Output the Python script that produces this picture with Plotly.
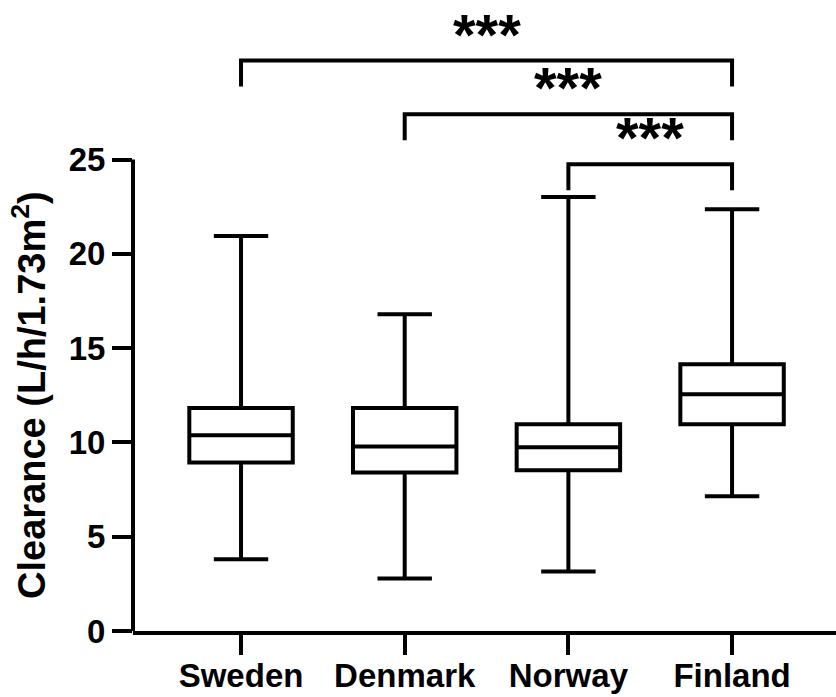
import plotly.graph_objects as go

countries = ["Sweden", "Denmark", "Norway", "Finland"]
q1 = [8.94, 8.41, 8.52, 10.96]
median = [10.38, 9.79, 9.74, 12.55]
q3 = [11.83, 11.83, 10.96, 14.15]
lower = [3.80, 2.79, 3.16, 7.14]
upper = [20.94, 16.80, 23.01, 22.37]

y_ticks = [0, 5, 10, 15, 20, 25]
y_title = "Clearance (L/h/1.73m<sup>2</sup>)"

# significance comparisons: (group a, group b, bracket height, label)
comparisons = [
    ("Sweden", "Finland", 30.25, "***"),
    ("Denmark", "Finland", 27.40, "***"),
    ("Norway", "Finland", 24.75, "***"),
]
leg_drop = 1.38

FONT = "Liberation Sans, Arial, sans-serif"

fig = go.Figure()
fig.add_trace(go.Box(
    x=countries, q1=q1, median=median, q3=q3,
    lowerfence=lower, upperfence=upper,
    boxpoints=False, width=0.632, whiskerwidth=0.526,
    fillcolor="white", line=dict(color="black", width=4),
    showlegend=False, hoverinfo="skip",
))

for a, b, h, lab in comparisons:
    fig.add_trace(go.Scatter(
        x=[a, a, b, b], y=[h - leg_drop, h, h, h - leg_drop],
        mode="lines", line=dict(color="black", width=4),
        showlegend=False, hoverinfo="skip",
    ))
    ia, ib = countries.index(a), countries.index(b)
    fig.add_annotation(
        x=(ia + ib) / 2, y=h, xref="x", yref="y",
        text=lab, showarrow=False, yanchor="bottom", yshift=-8,
        font=dict(family=FONT, size=58, color="black", weight="bold"),
    )

# y axis line only over 0..25
fig.add_shape(type="line", xref="paper", yref="y", x0=0, x1=0,
              y0=y_ticks[0], y1=y_ticks[-1],
              line=dict(color="black", width=4), layer="above")

fig.add_annotation(
    x=-0.147, xref="paper", y=(y_ticks[0] + y_ticks[-1]) / 2, yref="y",
    text=y_title, textangle=-90, showarrow=False,
    xanchor="center", yanchor="middle",
    font=dict(family=FONT, size=38, color="black", weight="bold"),
)

fig.update_layout(
    width=836, height=697,
    margin=dict(l=133, r=0, t=10, b=66),
    plot_bgcolor="white", paper_bgcolor="white",
    font=dict(family=FONT, color="black", weight="bold"),
    xaxis=dict(
        type="category", categoryorder="array", categoryarray=countries,
        range=[-0.66, 3.635], showline=True, linecolor="black", linewidth=4,
        ticks="outside", ticklen=20, tickwidth=4, tickcolor="black",
        ticklabelstandoff=-8,
        showgrid=False, zeroline=False, automargin=False,
        tickfont=dict(family=FONT, size=33, color="black", weight="bold"),
    ),
    yaxis=dict(
        range=[0, 32.93], tickvals=y_ticks, showline=False,
        ticks="outside", ticklen=20, tickwidth=4, tickcolor="black",
        showgrid=False, zeroline=False, automargin=False,
        tickfont=dict(family=FONT, size=33, color="black", weight="bold"),
    ),
)

fig.write_html("out.html", config={"displayModeBar": False},
               post_script="document.body.style.margin='0';")
